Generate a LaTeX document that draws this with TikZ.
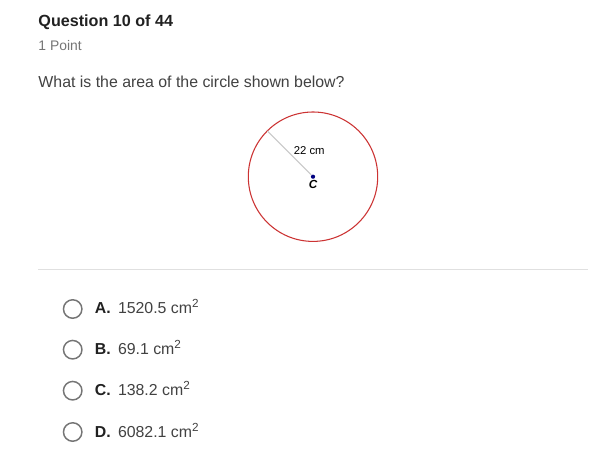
\documentclass[tikz,border=0pt]{standalone}
\usepackage{fontspec}
\setmainfont{Liberation Sans}

\definecolor{inkdark}{RGB}{33,33,33}
\definecolor{inkgrey}{RGB}{117,117,117}
\definecolor{inktext}{RGB}{66,66,66}
\definecolor{ringred}{RGB}{204,51,51}
\definecolor{rulegrey}{RGB}{224,224,224}

\newcommand{\unitsup}[1]{\raisebox{4.4pt}{\fontsize{8.8pt}{9pt}\selectfont #1}}

\tikzset{every picture/.style={line width=0.75pt}}
\tikzset{
  qtext/.style={anchor=base west, inner sep=0pt, text=inktext, font=\fontsize{11.9pt}{14pt}\selectfont},
  qlabel/.style={anchor=base west, inner sep=0pt, text=inkdark, font=\fontsize{11.9pt}{14pt}\selectfont\bfseries},
  radio/.style={circle, draw=inkgrey, line width=1.1pt, minimum size=18.5*0.75pt, inner sep=0pt}
}

\begin{document}
\begin{tikzpicture}[x=0.75pt,y=0.75pt,yscale=-1,xscale=1]
\useasboundingbox (0,0) rectangle (603,464);
\fill [white] (0,0) rectangle (603,464);

% Text Node
\draw (38,26.5) node (title) [anchor=base west, inner sep=0pt, text=inkdark, font=\fontsize{12.1pt}{14pt}\selectfont\bfseries] {Question 10 of 44};
% Text Node
\draw (38,50.7) node (points) [anchor=base west, inner sep=0pt, text=inkgrey, font=\fontsize{10.4pt}{12pt}\selectfont] {1 Point};
% Text Node
\draw (38,87.3) node (question) [qtext] {What is the area of the circle shown below?};

%Circle [id:circle]
\draw [color=ringred, line width=0.8pt] (313,176.7) circle [radius=64.7];
% centre point
\draw (313,176.7) node (ctr) [circle, fill={rgb, 255:red, 0; green, 0; blue, 128}, inner sep=0pt, minimum size=4.2*0.75pt] {};
\coordinate (rim) at (267.3,131);
%Straight Lines [id:radius]
\draw [color={rgb, 255:red, 200; green, 200; blue, 200}, line width=0.75pt] (ctr) -- (rim);
% Text Node
\draw (293.3,154) node (len) [anchor=base west, inner sep=0pt, text=black, font=\fontsize{8.5pt}{10pt}\selectfont] {22 cm};
% Text Node
\draw (313,188.3) node (ctrlabel) [anchor=base, inner sep=0pt, text=black, font=\fontsize{8.8pt}{10pt}\selectfont\bfseries\itshape] {C};

%Straight Lines [id:separator]
\draw [color=rulegrey, line width=0.9pt] (38,269.3) -- (588,269.3);

%Radio buttons
\draw (72.7,309) node (ra) [radio] {};
\draw (72.7,349.7) node (rb) [radio] {};
\draw (72.7,390.7) node (rc) [radio] {};
\draw (72.7,432) node (rd) [radio] {};

% Text Node
\draw (94.3,313.3) node (la) [qlabel] {A.};
\draw (117.5,313.3) node (va) [qtext] {1520.5 cm\unitsup{2}};
% Text Node
\draw (94.3,354.3) node (lb) [qlabel] {B.};
\draw (117.5,354.3) node (vb) [qtext] {69.1 cm\unitsup{2}};
% Text Node
\draw (94.3,395.7) node (lc) [qlabel] {C.};
\draw (117.5,395.7) node (vc) [qtext] {138.2 cm\unitsup{2}};
% Text Node
\draw (94.3,437) node (ld) [qlabel] {D.};
\draw (117.5,437) node (vd) [qtext] {6082.1 cm\unitsup{2}};

\end{tikzpicture}
\end{document}
